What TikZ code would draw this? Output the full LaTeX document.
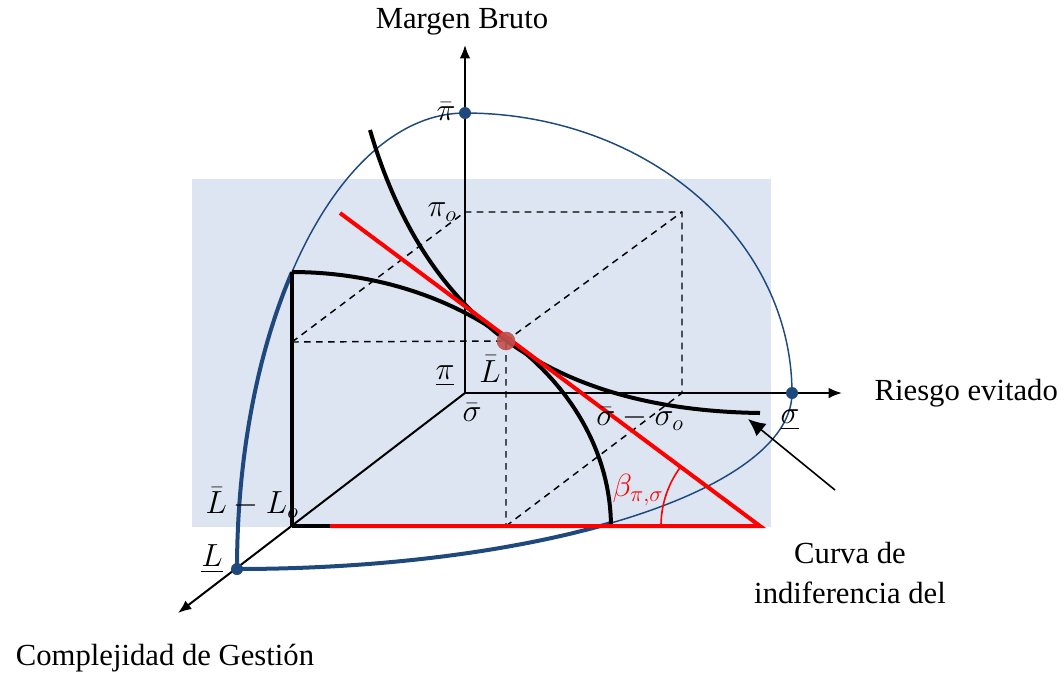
\documentclass[tikz,border=0pt]{standalone}
\usepackage{fix-cm}
\usepackage{amsmath}
\usepackage{fontspec}
\setmainfont{Liberation Serif}
\usepackage{xcolor}
\usepackage{tikz}
\usetikzlibrary{arrows.meta}

\definecolor{planefill}{RGB}{220,229,241}
\definecolor{frontblue}{RGB}{31,73,125}
\definecolor{optred}{RGB}{192,80,77}

\begin{document}
\begin{tikzpicture}[
  x=0.75pt, y=-0.75pt,
  every node/.style={font=\fontsize{23}{30}\selectfont},
  mlbl/.style={inner sep=0.5pt, font=\fontsize{24}{28}\selectfont},
  axisarr/.style={-{Latex[length=10pt, width=8pt]}, line width=1.5pt},
  bluethin/.style={frontblue, line width=1.1pt},
  bluethick/.style={frontblue, line width=3pt},
  blkthick/.style={black, line width=3pt},
  redthick/.style={red, line width=3pt, line join=miter},
  guide/.style={dashed, line width=1.1pt, dash pattern=on 5pt off 4pt},
  dot/.style={circle, fill=frontblue, inner sep=0pt, minimum size=9pt},
  optdot/.style={circle, fill=optred, opacity=0.9, inner sep=0pt, minimum size=14pt},
  ptr/.style={-{Latex[length=13pt, width=12pt]}, line width=1.2pt},
]
\useasboundingbox (0,0) rectangle (1064,676);

%% ── Plane ───────────────────────────────────────────────────────────────────
\fill[planefill] (192,179) rectangle (771,527);

%% ── Reference points ────────────────────────────────────────────────────────
\coordinate (O)      at (465,393);
\coordinate (yTip)   at (465,45);
\coordinate (xTip)   at (842,393);
\coordinate (zTip)   at (178,613);
\coordinate (boxTop) at (292,272);
\coordinate (boxBot) at (292,526);
\coordinate (boxMid) at (292,342);
\coordinate (pio)    at (465,212);
\coordinate (far)    at (682,212);
\coordinate (sigo)   at (682,393);
\coordinate (opt)    at (506,341);
\coordinate (optFoot) at (506,526);
\coordinate (redTop) at (340,213);
\coordinate (redEnd) at (760,526);
\coordinate (redBeg) at (330,526);
\coordinate (icBeg)  at (370,130);
\coordinate (icEnd)  at (760,413);
\coordinate (ptrTail) at (835,490);
\coordinate (ptrHead) at (748,419);

%% ── Dashed construction ─────────────────────────────────────────────────────
\draw[guide] (boxMid) -- (opt) -- (optFoot);
\draw[guide] (boxMid) -- (pio) -- (far) -- (sigo);
\draw[guide] (opt) -- (far);
\draw[guide] (optFoot) -- (sigo);

%% ── Blue envelope ───────────────────────────────────────────────────────────
\draw[bluethin]  plot[domain=0:90, samples=60]      ({465+327*cos(\x)}, {393-280*sin(\x)});
\draw[bluethin]  plot[domain=90:139.4, samples=40]  ({465+228*cos(\x)}, {569-456*sin(\x)});
\draw[bluethick] plot[domain=139.4:180, samples=40] ({465+228*cos(\x)}, {569-456*sin(\x)});
\draw[bluethick] plot[domain=-90:-47.6, samples=40] ({237+555*cos(\x)}, {393-176*sin(\x)});
\draw[bluethin]  plot[domain=-47.6:0, samples=40]   ({237+555*cos(\x)}, {393-176*sin(\x)});

%% ── Axes ────────────────────────────────────────────────────────────────────
\draw[axisarr] (O) -- (yTip);
\draw[axisarr] (O) -- (xTip);
\draw[axisarr] (O) -- (zTip);

%% ── Frontier, indifference curve and tangent ───────────────────────────────
\draw[blkthick] (boxBot) -- (boxTop);
\draw[blkthick] plot[domain=0:90, samples=60] ({292+319*cos(\x)}, {527-255*sin(\x)});
\draw[blkthick] (boxBot) -- (redBeg);
\draw[blkthick] (icBeg) .. controls (425,318) and (550,410) .. (icEnd);
\draw[redthick] (redTop) -- (redEnd) -- (redBeg);
\draw[red, line width=1.2pt] plot[domain=180:143.3, samples=30] ({760+99*cos(\x)}, {526-99*sin(\x)});

%% ── Points ──────────────────────────────────────────────────────────────────
\node[dot] (pibarDot) at (465,113) {};
\node[dot] (sigDot)   at (792,393) {};
\node[dot] (Ldot)     at (237,569) {};
\node[optdot] (optDot) at (opt) {};

%% ── Labels ──────────────────────────────────────────────────────────────────
\node (yLabel) at (462,22) {Margen Bruto};
\node[anchor=west] (xLabel) at (870,393) {Riesgo evitado};
\node (zLabel) at (165,658) {Complejidad de Gestión};

\node[mlbl] (pibarLbl) at (446,112) {$\bar{\pi}$};
\node[mlbl] (pioLbl)   at (442,212) {$\pi_o$};
\node[mlbl] (piLbl)    at (445,376) {$\underline{\pi}$};
\node[mlbl] (LbarLbl)  at (490,369) {$\bar{L}$};
\node[mlbl] (sbarLbl)  at (472,413) {$\bar{\sigma}$};
\node[mlbl] (sdiffLbl) at (640,419) {$\bar{\sigma}-\sigma_o$};
\node[mlbl] (sigLbl)   at (790,420) {$\underline{\sigma}$};
\node[mlbl] (LdiffLbl) at (252,503) {$\bar{L}-L_o$};
\node[mlbl] (LLbl)     at (212,559) {$\underline{L}$};
\node[mlbl, red] (betaLbl) at (638,490) {$\beta_{\pi,\sigma}$};

\node[align=center] (curva) at (850,573) {Curva de\\indiferencia del};
\draw[ptr] (ptrTail) -- (ptrHead);

\end{tikzpicture}
\end{document}
